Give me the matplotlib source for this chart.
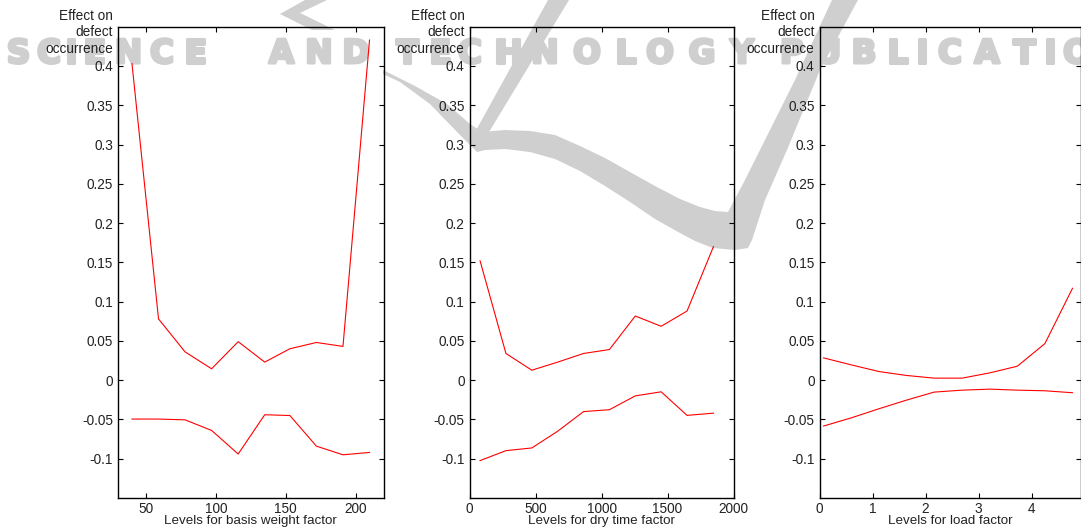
import matplotlib
matplotlib.use("Agg")
import matplotlib.pyplot as plt
from matplotlib.patches import Polygon
import matplotlib.patheffects as pe

# ---------------- data ----------------
bw_levels = [40, 59, 78, 97, 116, 135, 153, 172, 191, 210]
bw_upper = [0.403, 0.078, 0.036, 0.0145, 0.049, 0.023, 0.040, 0.048, 0.043, 0.433]
bw_lower = [-0.0495, -0.0495, -0.0505, -0.064, -0.094, -0.044, -0.045, -0.084, -0.095, -0.092]

dt_levels = [80, 276, 472, 668, 864, 1060, 1256, 1452, 1648, 1848]
dt_upper = [0.152, 0.034, 0.0127, 0.023, 0.034, 0.039, 0.0817, 0.0686, 0.088, 0.170]
dt_lower = [-0.1024, -0.0897, -0.0863, -0.065, -0.040, -0.0376, -0.020, -0.0148, -0.0448, -0.042]

ld_levels = [0.076, 0.598, 1.12, 1.64, 2.16, 2.69, 3.21, 3.73, 4.25, 4.77]
ld_upper = [0.0284, 0.0195, 0.011, 0.006, 0.0026, 0.0026, 0.0093, 0.0178, 0.0466, 0.117]
ld_lower = [-0.0584, -0.048, -0.0364, -0.0254, -0.0152, -0.0127, -0.0114, -0.0127, -0.0135, -0.016]

y_ticks = [-0.1, -0.05, 0, 0.05, 0.1, 0.15, 0.2, 0.25, 0.3, 0.35, 0.4]
y_ticklabels = ["-0.1", "-0.05", "0", "0.05", "0.1", "0.15", "0.2", "0.25", "0.3", "0.35", "0.4"]

x_ticks_bw = [50, 100, 150, 200]
x_ticks_dt = [0, 500, 1000, 1500, 2000]
x_ticks_ld = [0, 1, 2, 3, 4]

xlabels = ["Levels for basis weight factor", "Levels for dry time factor", "Levels for load factor"]
ylabel_text = "Effect on\ndefect\noccurrence"

watermark_words = ["SCIENCE", "AND", "TECHNOLOGY", "PUBLICATIONS"]

# ---------------- figure ----------------
W, H = 1081, 531
plt.rcParams['font.family'] = ['Liberation Sans', 'DejaVu Sans']
fig = plt.figure(figsize=(W / 100, H / 100), dpi=100)

def fx(px):
    return px / W

def fy(py):
    return 1 - py / H

# ---- watermark (drawn under the axes) ----
wm_color = '#cfcfcf'
letter_centers = [
    [18.5, 49, 71, 94.5, 128.5, 162, 195.5],
    [281.5, 319, 356],
    [407, 440, 470, 508, 545, 587, 625, 660, 702, 742],
    [792, 828, 864, 897, 922, 950, 987, 1024, 1050, 1077, 1112, 1147],
]
for word, centers in zip(watermark_words, letter_centers):
    for ch, cx in zip(word, centers):
        fig.text(fx(cx), fy(63), ch, ha='center', va='baseline',
                 fontsize=23.5, fontweight='bold', family='DejaVu Sans',
                 color=wm_color, zorder=-2,
                 path_effects=[pe.withStroke(linewidth=2.2, foreground=wm_color)])

swoosh = [
    (383, 70), (415, 86), (447, 104), (470, 124), (482, 132),
    (505, 130), (530, 131), (555, 135), (580, 146), (605, 158), (630, 172),
    (655, 186), (680, 199), (700, 207), (715, 211), (728, 212),
    (745, 180), (760, 150), (795, 80), (832, 0), (858, 0),
    (820, 70), (787, 150), (765, 200), (752, 240), (748, 248),
    (735, 250), (713, 248), (695, 241), (680, 233), (655, 219), (630, 202),
    (605, 186), (580, 171), (555, 159), (530, 152), (505, 149), (485, 150),
    (477, 152), (460, 135), (430, 104), (400, 82), (383, 74),
]
vstroke = [(548, 0), (569, 0), (489, 132), (474, 134)]
chevron = [(305, 0), (327, 0), (300, 13), (335, 30), (312, 30), (280, 14)]
for poly in (swoosh, vstroke, chevron):
    pts = [(fx(x), fy(y)) for x, y in poly]
    fig.patches.append(Polygon(pts, closed=True, transform=fig.transFigure,
                               facecolor=wm_color, edgecolor='none', zorder=-2))

# ---- axes ----
top_px, bot_px = 26.7, 498
panels = [
    (118, 383.5, bw_levels, bw_upper, bw_lower, (30, 220), x_ticks_bw),
    (469.5, 733.5, dt_levels, dt_upper, dt_lower, (0, 2000), x_ticks_dt),
    (819.5, 1081, ld_levels, ld_upper, ld_lower, (0, 4.93), x_ticks_ld),
]

for i, (l, r, xs, up, lo, xlim, xt) in enumerate(panels):
    ax = fig.add_axes([fx(l), fy(bot_px), (r - l) / W, (bot_px - top_px) / H])
    ax.set_facecolor('none')
    ax.plot(xs, up, color='#ff0000', lw=0.8)
    ax.plot(xs, lo, color='#ff0000', lw=0.8)
    ax.set_xlim(*xlim)
    ax.set_ylim(-0.15, 0.45)
    ax.set_yticks(y_ticks)
    ax.set_yticklabels(y_ticklabels)
    ax.set_xticks(xt)
    ax.set_xticklabels([str(t) for t in xt])
    ax.tick_params(direction='in', length=3.6, width=0.8, labelsize=9.8,
                   top=True, right=True, colors='black')
    ax.tick_params(axis='y', pad=3.5)
    ax.tick_params(axis='x', pad=3.0)
    for s in ax.spines.values():
        s.set_linewidth(1.0)
        s.set_color('black')
    ax.set_xlabel(xlabels[i], fontsize=9.6, labelpad=-1.0, color='#222222')
    for lab in ax.get_xticklabels() + ax.get_yticklabels():
        lab.set_color('#222222')
    fig.text(fx(l - 5), fy(8.5), ylabel_text, ha='right', va='top',
             multialignment='right', fontsize=9.8, linespacing=1.25,
             color='#222222')

fig.savefig('out.png', dpi=100)
